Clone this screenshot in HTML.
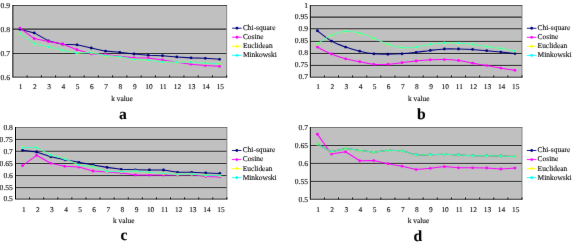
<!DOCTYPE html><html><head><meta charset="utf-8"><style>html,body{margin:0;padding:0;background:#fff}svg{display:block}text{text-rendering:geometricPrecision;font-family:"Liberation Serif",serif;fill:#000;stroke:#000;stroke-width:0.1px}</style></head><body>
<svg width="572" height="244" viewBox="0 0 572 244">
<defs><filter id="bl" x="0" y="0" width="572" height="244" filterUnits="userSpaceOnUse" color-interpolation-filters="sRGB"><feConvolveMatrix order="3" kernelMatrix="0.00348 0.05206 0.00348 0.05206 0.77783 0.05206 0.00348 0.05206 0.00348" edgeMode="duplicate" preserveAlpha="false"/></filter></defs>
<rect width="572" height="244" fill="#fff"/>
<rect x="12.85" y="5.5" width="213.85" height="71.50" fill="#c0c0c0"/>
<line x1="12.85" y1="29.05" x2="226.7" y2="29.05" stroke="#303030" stroke-width="1.3"/>
<line x1="12.85" y1="53.5" x2="226.7" y2="53.5" stroke="#303030" stroke-width="0.95"/>
<line x1="226.7" y1="5.5" x2="226.7" y2="77.0" stroke="#808080" stroke-width="0.9"/>
<line x1="12.85" y1="5.5" x2="227.1" y2="5.5" stroke="#505050" stroke-width="1"/>
<line x1="12.85" y1="5.0" x2="12.85" y2="77.4" stroke="#000" stroke-width="0.95"/>
<line x1="12.85" y1="77.15" x2="227.1" y2="77.15" stroke="#000" stroke-width="0.8"/>
<line x1="27.11" y1="75.3" x2="27.11" y2="77.4" stroke="#000" stroke-width="0.8"/>
<line x1="41.36" y1="75.3" x2="41.36" y2="77.4" stroke="#000" stroke-width="0.8"/>
<line x1="55.62" y1="75.3" x2="55.62" y2="77.4" stroke="#000" stroke-width="0.8"/>
<line x1="69.88" y1="75.3" x2="69.88" y2="77.4" stroke="#000" stroke-width="0.8"/>
<line x1="84.13" y1="75.3" x2="84.13" y2="77.4" stroke="#000" stroke-width="0.8"/>
<line x1="98.39" y1="75.3" x2="98.39" y2="77.4" stroke="#000" stroke-width="0.8"/>
<line x1="112.65" y1="75.3" x2="112.65" y2="77.4" stroke="#000" stroke-width="0.8"/>
<line x1="126.90" y1="75.3" x2="126.90" y2="77.4" stroke="#000" stroke-width="0.8"/>
<line x1="141.16" y1="75.3" x2="141.16" y2="77.4" stroke="#000" stroke-width="0.8"/>
<line x1="155.42" y1="75.3" x2="155.42" y2="77.4" stroke="#000" stroke-width="0.8"/>
<line x1="169.67" y1="75.3" x2="169.67" y2="77.4" stroke="#000" stroke-width="0.8"/>
<line x1="183.93" y1="75.3" x2="183.93" y2="77.4" stroke="#000" stroke-width="0.8"/>
<line x1="198.19" y1="75.3" x2="198.19" y2="77.4" stroke="#000" stroke-width="0.8"/>
<line x1="212.44" y1="75.3" x2="212.44" y2="77.4" stroke="#000" stroke-width="0.8"/>
<line x1="226.70" y1="75.3" x2="226.70" y2="77.4" stroke="#000" stroke-width="0.8"/>
<rect x="310.3" y="5.57" width="211.70" height="71.48" fill="#c0c0c0"/>
<line x1="310.3" y1="17.05" x2="522.0" y2="17.05" stroke="#303030" stroke-width="1.3"/>
<line x1="310.3" y1="28.7" x2="522.0" y2="28.7" stroke="#303030" stroke-width="1.1"/>
<line x1="310.3" y1="41.4" x2="522.0" y2="41.4" stroke="#303030" stroke-width="1.0"/>
<line x1="310.3" y1="53.46" x2="522.0" y2="53.46" stroke="#303030" stroke-width="1.0"/>
<line x1="310.3" y1="65.4" x2="522.0" y2="65.4" stroke="#303030" stroke-width="1.0"/>
<line x1="522.0" y1="5.57" x2="522.0" y2="77.05" stroke="#808080" stroke-width="0.9"/>
<line x1="310.3" y1="5.57" x2="522.4" y2="5.57" stroke="#505050" stroke-width="1"/>
<line x1="310.3" y1="5.07" x2="310.3" y2="77.45" stroke="#000" stroke-width="0.95"/>
<line x1="310.3" y1="77.2" x2="522.4" y2="77.2" stroke="#000" stroke-width="0.8"/>
<line x1="324.41" y1="75.35" x2="324.41" y2="77.45" stroke="#000" stroke-width="0.8"/>
<line x1="338.53" y1="75.35" x2="338.53" y2="77.45" stroke="#000" stroke-width="0.8"/>
<line x1="352.64" y1="75.35" x2="352.64" y2="77.45" stroke="#000" stroke-width="0.8"/>
<line x1="366.75" y1="75.35" x2="366.75" y2="77.45" stroke="#000" stroke-width="0.8"/>
<line x1="380.87" y1="75.35" x2="380.87" y2="77.45" stroke="#000" stroke-width="0.8"/>
<line x1="394.98" y1="75.35" x2="394.98" y2="77.45" stroke="#000" stroke-width="0.8"/>
<line x1="409.09" y1="75.35" x2="409.09" y2="77.45" stroke="#000" stroke-width="0.8"/>
<line x1="423.21" y1="75.35" x2="423.21" y2="77.45" stroke="#000" stroke-width="0.8"/>
<line x1="437.32" y1="75.35" x2="437.32" y2="77.45" stroke="#000" stroke-width="0.8"/>
<line x1="451.43" y1="75.35" x2="451.43" y2="77.45" stroke="#000" stroke-width="0.8"/>
<line x1="465.55" y1="75.35" x2="465.55" y2="77.45" stroke="#000" stroke-width="0.8"/>
<line x1="479.66" y1="75.35" x2="479.66" y2="77.45" stroke="#000" stroke-width="0.8"/>
<line x1="493.77" y1="75.35" x2="493.77" y2="77.45" stroke="#000" stroke-width="0.8"/>
<line x1="507.89" y1="75.35" x2="507.89" y2="77.45" stroke="#000" stroke-width="0.8"/>
<line x1="522.00" y1="75.35" x2="522.00" y2="77.45" stroke="#000" stroke-width="0.8"/>
<rect x="15.5" y="127.5" width="211.40" height="71.45" fill="#c0c0c0"/>
<line x1="15.5" y1="139.45" x2="226.9" y2="139.45" stroke="#303030" stroke-width="0.95"/>
<line x1="15.5" y1="151.25" x2="226.9" y2="151.25" stroke="#303030" stroke-width="0.95"/>
<line x1="15.5" y1="163.5" x2="226.9" y2="163.5" stroke="#303030" stroke-width="0.95"/>
<line x1="15.5" y1="175.57" x2="226.9" y2="175.57" stroke="#303030" stroke-width="0.95"/>
<line x1="15.5" y1="187.6" x2="226.9" y2="187.6" stroke="#303030" stroke-width="0.95"/>
<line x1="226.9" y1="127.5" x2="226.9" y2="198.95" stroke="#808080" stroke-width="0.9"/>
<line x1="15.5" y1="127.5" x2="227.3" y2="127.5" stroke="#6a6a6a" stroke-width="0.85"/>
<line x1="15.5" y1="127.0" x2="15.5" y2="199.35" stroke="#000" stroke-width="0.95"/>
<line x1="15.5" y1="199.1" x2="227.3" y2="199.1" stroke="#000" stroke-width="0.8"/>
<line x1="29.59" y1="197.25" x2="29.59" y2="199.35" stroke="#000" stroke-width="0.8"/>
<line x1="43.69" y1="197.25" x2="43.69" y2="199.35" stroke="#000" stroke-width="0.8"/>
<line x1="57.78" y1="197.25" x2="57.78" y2="199.35" stroke="#000" stroke-width="0.8"/>
<line x1="71.87" y1="197.25" x2="71.87" y2="199.35" stroke="#000" stroke-width="0.8"/>
<line x1="85.97" y1="197.25" x2="85.97" y2="199.35" stroke="#000" stroke-width="0.8"/>
<line x1="100.06" y1="197.25" x2="100.06" y2="199.35" stroke="#000" stroke-width="0.8"/>
<line x1="114.15" y1="197.25" x2="114.15" y2="199.35" stroke="#000" stroke-width="0.8"/>
<line x1="128.25" y1="197.25" x2="128.25" y2="199.35" stroke="#000" stroke-width="0.8"/>
<line x1="142.34" y1="197.25" x2="142.34" y2="199.35" stroke="#000" stroke-width="0.8"/>
<line x1="156.43" y1="197.25" x2="156.43" y2="199.35" stroke="#000" stroke-width="0.8"/>
<line x1="170.53" y1="197.25" x2="170.53" y2="199.35" stroke="#000" stroke-width="0.8"/>
<line x1="184.62" y1="197.25" x2="184.62" y2="199.35" stroke="#000" stroke-width="0.8"/>
<line x1="198.71" y1="197.25" x2="198.71" y2="199.35" stroke="#000" stroke-width="0.8"/>
<line x1="212.81" y1="197.25" x2="212.81" y2="199.35" stroke="#000" stroke-width="0.8"/>
<line x1="226.90" y1="197.25" x2="226.90" y2="199.35" stroke="#000" stroke-width="0.8"/>
<rect x="310.3" y="127.5" width="211.70" height="71.60" fill="#c0c0c0"/>
<line x1="310.3" y1="145.5" x2="522.0" y2="145.5" stroke="#303030" stroke-width="0.95"/>
<line x1="310.3" y1="163.4" x2="522.0" y2="163.4" stroke="#303030" stroke-width="0.95"/>
<line x1="310.3" y1="181.4" x2="522.0" y2="181.4" stroke="#303030" stroke-width="0.95"/>
<line x1="522.0" y1="127.5" x2="522.0" y2="199.1" stroke="#808080" stroke-width="0.9"/>
<line x1="310.3" y1="127.5" x2="522.4" y2="127.5" stroke="#6a6a6a" stroke-width="0.85"/>
<line x1="310.3" y1="127.0" x2="310.3" y2="199.5" stroke="#000" stroke-width="0.95"/>
<line x1="310.3" y1="199.25" x2="522.4" y2="199.25" stroke="#000" stroke-width="0.8"/>
<line x1="324.41" y1="197.4" x2="324.41" y2="199.5" stroke="#000" stroke-width="0.8"/>
<line x1="338.53" y1="197.4" x2="338.53" y2="199.5" stroke="#000" stroke-width="0.8"/>
<line x1="352.64" y1="197.4" x2="352.64" y2="199.5" stroke="#000" stroke-width="0.8"/>
<line x1="366.75" y1="197.4" x2="366.75" y2="199.5" stroke="#000" stroke-width="0.8"/>
<line x1="380.87" y1="197.4" x2="380.87" y2="199.5" stroke="#000" stroke-width="0.8"/>
<line x1="394.98" y1="197.4" x2="394.98" y2="199.5" stroke="#000" stroke-width="0.8"/>
<line x1="409.09" y1="197.4" x2="409.09" y2="199.5" stroke="#000" stroke-width="0.8"/>
<line x1="423.21" y1="197.4" x2="423.21" y2="199.5" stroke="#000" stroke-width="0.8"/>
<line x1="437.32" y1="197.4" x2="437.32" y2="199.5" stroke="#000" stroke-width="0.8"/>
<line x1="451.43" y1="197.4" x2="451.43" y2="199.5" stroke="#000" stroke-width="0.8"/>
<line x1="465.55" y1="197.4" x2="465.55" y2="199.5" stroke="#000" stroke-width="0.8"/>
<line x1="479.66" y1="197.4" x2="479.66" y2="199.5" stroke="#000" stroke-width="0.8"/>
<line x1="493.77" y1="197.4" x2="493.77" y2="199.5" stroke="#000" stroke-width="0.8"/>
<line x1="507.89" y1="197.4" x2="507.89" y2="199.5" stroke="#000" stroke-width="0.8"/>
<line x1="522.00" y1="197.4" x2="522.00" y2="199.5" stroke="#000" stroke-width="0.8"/>
<g filter="url(#bl)">
<text x="9.95" y="8.25" font-size="7.6" text-anchor="end">0.9</text>
<text x="9.95" y="31.80" font-size="7.6" text-anchor="end">0.8</text>
<text x="9.95" y="56.25" font-size="7.6" text-anchor="end">0.7</text>
<text x="9.95" y="79.75" font-size="7.6" text-anchor="end">0.6</text>
<text x="20.68" y="89.30" font-size="7.4" text-anchor="middle">1</text>
<text x="34.94" y="89.30" font-size="7.4" text-anchor="middle">2</text>
<text x="49.19" y="89.30" font-size="7.4" text-anchor="middle">3</text>
<text x="63.45" y="89.30" font-size="7.4" text-anchor="middle">4</text>
<text x="77.70" y="89.30" font-size="7.4" text-anchor="middle">5</text>
<text x="91.96" y="89.30" font-size="7.4" text-anchor="middle">6</text>
<text x="106.22" y="89.30" font-size="7.4" text-anchor="middle">7</text>
<text x="120.47" y="89.30" font-size="7.4" text-anchor="middle">8</text>
<text x="134.73" y="89.30" font-size="7.4" text-anchor="middle">9</text>
<text x="148.99" y="89.30" font-size="7.4" text-anchor="middle">10</text>
<text x="163.24" y="89.30" font-size="7.4" text-anchor="middle">11</text>
<text x="177.50" y="89.30" font-size="7.4" text-anchor="middle">12</text>
<text x="191.76" y="89.30" font-size="7.4" text-anchor="middle">13</text>
<text x="206.01" y="89.30" font-size="7.4" text-anchor="middle">14</text>
<text x="220.27" y="89.30" font-size="7.4" text-anchor="middle">15</text>
<text x="122.00" y="100.60" font-size="7.35" text-anchor="middle">k value</text>
<text x="122.9" y="118.65" font-size="15.6" font-weight="bold" text-anchor="middle">a</text>
<g opacity="1"><path d="M19.98 29.30 L34.23 32.90 L48.49 40.90 L62.75 44.18 L77.00 44.80 L91.26 48.02 L105.52 51.14 L119.77 52.34 L134.03 54.02 L148.29 55.22 L162.54 55.70 L176.80 56.90 L191.06 57.86 L205.31 58.34 L219.57 59.30" fill="none" stroke="#000080" stroke-width="1.05" stroke-linejoin="round"/>
<circle cx="19.98" cy="29.30" r="1.4" fill="#000080"/>
<circle cx="34.23" cy="32.90" r="1.4" fill="#000080"/>
<circle cx="48.49" cy="40.90" r="1.4" fill="#000080"/>
<circle cx="62.75" cy="44.18" r="1.4" fill="#000080"/>
<circle cx="77.00" cy="44.80" r="1.4" fill="#000080"/>
<circle cx="91.26" cy="48.02" r="1.4" fill="#000080"/>
<circle cx="105.52" cy="51.14" r="1.4" fill="#000080"/>
<circle cx="119.77" cy="52.34" r="1.4" fill="#000080"/>
<circle cx="134.03" cy="54.02" r="1.4" fill="#000080"/>
<circle cx="148.29" cy="55.22" r="1.4" fill="#000080"/>
<circle cx="162.54" cy="55.70" r="1.4" fill="#000080"/>
<circle cx="176.80" cy="56.90" r="1.4" fill="#000080"/>
<circle cx="191.06" cy="57.86" r="1.4" fill="#000080"/>
<circle cx="205.31" cy="58.34" r="1.4" fill="#000080"/>
<circle cx="219.57" cy="59.30" r="1.4" fill="#000080"/>
</g>
<g opacity="1"><path d="M19.98 28.10 L34.23 38.60 L48.49 41.54 L62.75 43.94 L77.00 49.76 L91.26 53.78 L105.52 54.50 L119.77 56.18 L134.03 57.80 L148.29 58.00 L162.54 59.90 L176.80 62.30 L191.06 64.20 L205.31 65.50 L219.57 66.26" fill="none" stroke="#ff00ff" stroke-width="1.05" stroke-linejoin="round"/>
<circle cx="19.98" cy="28.10" r="1.4" fill="#ff00ff"/>
<circle cx="34.23" cy="38.60" r="1.4" fill="#ff00ff"/>
<circle cx="48.49" cy="41.54" r="1.4" fill="#ff00ff"/>
<circle cx="62.75" cy="43.94" r="1.4" fill="#ff00ff"/>
<circle cx="77.00" cy="49.76" r="1.4" fill="#ff00ff"/>
<circle cx="91.26" cy="53.78" r="1.4" fill="#ff00ff"/>
<circle cx="105.52" cy="54.50" r="1.4" fill="#ff00ff"/>
<circle cx="119.77" cy="56.18" r="1.4" fill="#ff00ff"/>
<circle cx="134.03" cy="57.80" r="1.4" fill="#ff00ff"/>
<circle cx="148.29" cy="58.00" r="1.4" fill="#ff00ff"/>
<circle cx="162.54" cy="59.90" r="1.4" fill="#ff00ff"/>
<circle cx="176.80" cy="62.30" r="1.4" fill="#ff00ff"/>
<circle cx="191.06" cy="64.20" r="1.4" fill="#ff00ff"/>
<circle cx="205.31" cy="65.50" r="1.4" fill="#ff00ff"/>
<circle cx="219.57" cy="66.26" r="1.4" fill="#ff00ff"/>
</g>
<g opacity="1"><path d="M19.98 33.38 L34.23 43.70 L48.49 46.76 L62.75 50.30 L77.00 53.06 L91.26 52.50 L105.52 55.70 L119.77 56.66 L134.03 59.60 L148.29 60.10 L162.54 62.00 L176.80 62.20 L191.06 62.10 L205.31 63.20 L219.57 63.86" fill="none" stroke="#ffff00" stroke-width="0.9" stroke-linejoin="round"/>
<circle cx="19.98" cy="33.38" r="1.5" fill="#ffff00"/>
<circle cx="34.23" cy="43.70" r="1.5" fill="#ffff00"/>
<circle cx="48.49" cy="46.76" r="1.5" fill="#ffff00"/>
<circle cx="62.75" cy="50.30" r="1.5" fill="#ffff00"/>
<circle cx="77.00" cy="53.06" r="1.5" fill="#ffff00"/>
<circle cx="91.26" cy="52.50" r="1.5" fill="#ffff00"/>
<circle cx="105.52" cy="55.70" r="1.5" fill="#ffff00"/>
<circle cx="119.77" cy="56.66" r="1.5" fill="#ffff00"/>
<circle cx="134.03" cy="59.60" r="1.5" fill="#ffff00"/>
<circle cx="148.29" cy="60.10" r="1.5" fill="#ffff00"/>
<circle cx="162.54" cy="62.00" r="1.5" fill="#ffff00"/>
<circle cx="176.80" cy="62.20" r="1.5" fill="#ffff00"/>
<circle cx="191.06" cy="62.10" r="1.5" fill="#ffff00"/>
<circle cx="205.31" cy="63.20" r="1.5" fill="#ffff00"/>
<circle cx="219.57" cy="63.86" r="1.5" fill="#ffff00"/>
</g>
<g opacity="0.95"><path d="M19.98 33.38 L34.23 43.70 L48.49 46.76 L62.75 50.30 L77.00 53.06 L91.26 52.50 L105.52 55.70 L119.77 56.66 L134.03 59.60 L148.29 60.10 L162.54 62.00 L176.80 62.20 L191.06 62.10 L205.31 63.20 L219.57 63.86" fill="none" stroke="#00ffff" stroke-width="0.8" stroke-linejoin="round"/>
<circle cx="19.98" cy="33.38" r="1.15" fill="#00ffff"/>
<circle cx="34.23" cy="43.70" r="1.15" fill="#00ffff"/>
<circle cx="48.49" cy="46.76" r="1.15" fill="#00ffff"/>
<circle cx="62.75" cy="50.30" r="1.15" fill="#00ffff"/>
<circle cx="77.00" cy="53.06" r="1.15" fill="#00ffff"/>
<circle cx="91.26" cy="52.50" r="1.15" fill="#00ffff"/>
<circle cx="105.52" cy="55.70" r="1.15" fill="#00ffff"/>
<circle cx="119.77" cy="56.66" r="1.15" fill="#00ffff"/>
<circle cx="134.03" cy="59.60" r="1.15" fill="#00ffff"/>
<circle cx="148.29" cy="60.10" r="1.15" fill="#00ffff"/>
<circle cx="162.54" cy="62.00" r="1.15" fill="#00ffff"/>
<circle cx="176.80" cy="62.20" r="1.15" fill="#00ffff"/>
<circle cx="191.06" cy="62.10" r="1.15" fill="#00ffff"/>
<circle cx="205.31" cy="63.20" r="1.15" fill="#00ffff"/>
<circle cx="219.57" cy="63.86" r="1.15" fill="#00ffff"/>
</g>
<line x1="232.1" y1="28.20" x2="241.7" y2="28.20" stroke="#000080" stroke-width="0.9"/>
<circle cx="237.0" cy="28.20" r="1.4" fill="#000080"/>
<text x="242.90" y="30.10" font-size="7.45">Chi-square</text>
<line x1="232.1" y1="37.25" x2="241.7" y2="37.25" stroke="#ff00ff" stroke-width="0.9"/>
<circle cx="237.0" cy="37.25" r="1.4" fill="#ff00ff"/>
<text x="242.90" y="39.15" font-size="7.45">Cosine</text>
<line x1="232.1" y1="46.30" x2="241.7" y2="46.30" stroke="#ffff00" stroke-width="0.9"/>
<circle cx="237.0" cy="46.30" r="1.4" fill="#ffff00"/>
<text x="242.90" y="48.20" font-size="7.45">Euclidean</text>
<line x1="232.1" y1="55.35" x2="241.7" y2="55.35" stroke="#00ffff" stroke-width="0.9"/>
<circle cx="237.0" cy="55.35" r="1.4" fill="#00ffff"/>
<text x="242.90" y="57.25" font-size="7.45">Minkowski</text>
<text x="308.00" y="7.57" font-size="7.6" text-anchor="end">1</text>
<text x="308.00" y="19.05" font-size="7.6" text-anchor="end">0.95</text>
<text x="308.00" y="30.70" font-size="7.6" text-anchor="end">0.9</text>
<text x="308.00" y="43.40" font-size="7.6" text-anchor="end">0.85</text>
<text x="308.00" y="55.46" font-size="7.6" text-anchor="end">0.8</text>
<text x="308.00" y="67.40" font-size="7.6" text-anchor="end">0.75</text>
<text x="308.00" y="79.05" font-size="7.6" text-anchor="end">0.7</text>
<text x="318.16" y="88.95" font-size="7.4" text-anchor="middle">1</text>
<text x="332.27" y="88.95" font-size="7.4" text-anchor="middle">2</text>
<text x="346.38" y="88.95" font-size="7.4" text-anchor="middle">3</text>
<text x="360.50" y="88.95" font-size="7.4" text-anchor="middle">4</text>
<text x="374.61" y="88.95" font-size="7.4" text-anchor="middle">5</text>
<text x="388.72" y="88.95" font-size="7.4" text-anchor="middle">6</text>
<text x="402.84" y="88.95" font-size="7.4" text-anchor="middle">7</text>
<text x="416.95" y="88.95" font-size="7.4" text-anchor="middle">8</text>
<text x="431.06" y="88.95" font-size="7.4" text-anchor="middle">9</text>
<text x="445.18" y="88.95" font-size="7.4" text-anchor="middle">10</text>
<text x="459.29" y="88.95" font-size="7.4" text-anchor="middle">11</text>
<text x="473.40" y="88.95" font-size="7.4" text-anchor="middle">12</text>
<text x="487.52" y="88.95" font-size="7.4" text-anchor="middle">13</text>
<text x="501.63" y="88.95" font-size="7.4" text-anchor="middle">14</text>
<text x="515.74" y="88.95" font-size="7.4" text-anchor="middle">15</text>
<text x="418.70" y="100.85" font-size="7.35" text-anchor="middle">k value</text>
<text x="421.4" y="118.75" font-size="15.6" font-weight="bold" text-anchor="middle">b</text>
<g opacity="1"><path d="M317.36 30.74 C319.71 32.46 326.77 38.34 331.47 41.06 C336.17 43.78 340.88 45.38 345.58 47.06 C350.29 48.74 354.99 50.02 359.70 51.14 C364.40 52.26 369.11 53.26 373.81 53.78 C378.51 54.30 383.22 54.26 387.92 54.26 C392.63 54.26 397.33 54.10 402.04 53.78 C406.74 53.46 411.45 52.90 416.15 52.34 C420.85 51.78 425.56 50.98 430.26 50.42 C434.97 49.86 439.67 49.22 444.38 48.98 C449.08 48.74 453.79 48.90 458.49 48.98 C463.19 49.06 467.90 49.18 472.60 49.46 C477.31 49.74 482.01 50.22 486.72 50.66 C491.42 51.10 496.13 51.62 500.83 52.10 C505.53 52.58 512.59 53.30 514.94 53.54" fill="none" stroke="#000080" stroke-width="1.05" stroke-linejoin="round"/>
<circle cx="317.36" cy="30.74" r="1.4" fill="#000080"/>
<circle cx="331.47" cy="41.06" r="1.4" fill="#000080"/>
<circle cx="345.58" cy="47.06" r="1.4" fill="#000080"/>
<circle cx="359.70" cy="51.14" r="1.4" fill="#000080"/>
<circle cx="373.81" cy="53.78" r="1.4" fill="#000080"/>
<circle cx="387.92" cy="54.26" r="1.4" fill="#000080"/>
<circle cx="402.04" cy="53.78" r="1.4" fill="#000080"/>
<circle cx="416.15" cy="52.34" r="1.4" fill="#000080"/>
<circle cx="430.26" cy="50.42" r="1.4" fill="#000080"/>
<circle cx="444.38" cy="48.98" r="1.4" fill="#000080"/>
<circle cx="458.49" cy="48.98" r="1.4" fill="#000080"/>
<circle cx="472.60" cy="49.46" r="1.4" fill="#000080"/>
<circle cx="486.72" cy="50.66" r="1.4" fill="#000080"/>
<circle cx="500.83" cy="52.10" r="1.4" fill="#000080"/>
<circle cx="514.94" cy="53.54" r="1.4" fill="#000080"/>
</g>
<g opacity="1"><path d="M317.36 47.06 C319.71 48.22 326.77 52.06 331.47 54.02 C336.17 55.98 340.88 57.54 345.58 58.82 C350.29 60.10 354.99 60.78 359.70 61.70 C364.40 62.62 369.11 63.90 373.81 64.34 C378.51 64.78 383.22 64.62 387.92 64.34 C392.63 64.06 397.33 63.22 402.04 62.66 C406.74 62.10 411.45 61.46 416.15 60.98 C420.85 60.50 425.56 60.02 430.26 59.78 C434.97 59.54 439.67 59.42 444.38 59.54 C449.08 59.66 453.79 59.90 458.49 60.50 C463.19 61.10 467.90 62.30 472.60 63.14 C477.31 63.98 482.01 64.72 486.72 65.54 C491.42 66.36 496.13 67.26 500.83 68.06 C505.53 68.86 512.59 69.96 514.94 70.34" fill="none" stroke="#ff00ff" stroke-width="1.05" stroke-linejoin="round"/>
<circle cx="317.36" cy="47.06" r="1.4" fill="#ff00ff"/>
<circle cx="331.47" cy="54.02" r="1.4" fill="#ff00ff"/>
<circle cx="345.58" cy="58.82" r="1.4" fill="#ff00ff"/>
<circle cx="359.70" cy="61.70" r="1.4" fill="#ff00ff"/>
<circle cx="373.81" cy="64.34" r="1.4" fill="#ff00ff"/>
<circle cx="387.92" cy="64.34" r="1.4" fill="#ff00ff"/>
<circle cx="402.04" cy="62.66" r="1.4" fill="#ff00ff"/>
<circle cx="416.15" cy="60.98" r="1.4" fill="#ff00ff"/>
<circle cx="430.26" cy="59.78" r="1.4" fill="#ff00ff"/>
<circle cx="444.38" cy="59.54" r="1.4" fill="#ff00ff"/>
<circle cx="458.49" cy="60.50" r="1.4" fill="#ff00ff"/>
<circle cx="472.60" cy="63.14" r="1.4" fill="#ff00ff"/>
<circle cx="486.72" cy="65.54" r="1.4" fill="#ff00ff"/>
<circle cx="500.83" cy="68.06" r="1.4" fill="#ff00ff"/>
<circle cx="514.94" cy="70.34" r="1.4" fill="#ff00ff"/>
</g>
<g opacity="1"><path d="M317.36 43.80 C319.71 42.38 326.77 37.38 331.47 35.30 C336.17 33.21 340.88 31.65 345.58 31.29 C350.29 30.93 354.99 31.97 359.70 33.14 C364.40 34.31 369.11 36.44 373.81 38.30 C378.51 40.16 383.22 42.75 387.92 44.30 C392.63 45.85 397.33 47.13 402.04 47.60 C406.74 48.07 411.45 47.65 416.15 47.10 C420.85 46.55 425.56 44.98 430.26 44.30 C434.97 43.62 439.67 43.18 444.38 43.00 C449.08 42.82 453.79 42.98 458.49 43.20 C463.19 43.42 467.90 43.74 472.60 44.30 C477.31 44.86 482.01 45.88 486.72 46.58 C491.42 47.28 496.13 47.78 500.83 48.50 C505.53 49.22 512.59 50.50 514.94 50.90" fill="none" stroke="#ffff00" stroke-width="0.9" stroke-linejoin="round"/>
<circle cx="317.36" cy="43.80" r="1.5" fill="#ffff00"/>
<circle cx="331.47" cy="35.30" r="1.5" fill="#ffff00"/>
<circle cx="345.58" cy="31.29" r="1.5" fill="#ffff00"/>
<circle cx="359.70" cy="33.14" r="1.5" fill="#ffff00"/>
<circle cx="373.81" cy="38.30" r="1.5" fill="#ffff00"/>
<circle cx="387.92" cy="44.30" r="1.5" fill="#ffff00"/>
<circle cx="402.04" cy="47.60" r="1.5" fill="#ffff00"/>
<circle cx="416.15" cy="47.10" r="1.5" fill="#ffff00"/>
<circle cx="430.26" cy="44.30" r="1.5" fill="#ffff00"/>
<circle cx="444.38" cy="43.00" r="1.5" fill="#ffff00"/>
<circle cx="458.49" cy="43.20" r="1.5" fill="#ffff00"/>
<circle cx="472.60" cy="44.30" r="1.5" fill="#ffff00"/>
<circle cx="486.72" cy="46.58" r="1.5" fill="#ffff00"/>
<circle cx="500.83" cy="48.50" r="1.5" fill="#ffff00"/>
<circle cx="514.94" cy="50.90" r="1.5" fill="#ffff00"/>
</g>
<g opacity="0.95"><path d="M317.36 43.80 C319.71 42.38 326.77 37.38 331.47 35.30 C336.17 33.21 340.88 31.65 345.58 31.29 C350.29 30.93 354.99 31.97 359.70 33.14 C364.40 34.31 369.11 36.44 373.81 38.30 C378.51 40.16 383.22 42.75 387.92 44.30 C392.63 45.85 397.33 47.13 402.04 47.60 C406.74 48.07 411.45 47.65 416.15 47.10 C420.85 46.55 425.56 44.98 430.26 44.30 C434.97 43.62 439.67 43.18 444.38 43.00 C449.08 42.82 453.79 42.98 458.49 43.20 C463.19 43.42 467.90 43.74 472.60 44.30 C477.31 44.86 482.01 45.88 486.72 46.58 C491.42 47.28 496.13 47.78 500.83 48.50 C505.53 49.22 512.59 50.50 514.94 50.90" fill="none" stroke="#00ffff" stroke-width="0.8" stroke-linejoin="round"/>
<circle cx="317.36" cy="43.80" r="1.15" fill="#00ffff"/>
<circle cx="331.47" cy="35.30" r="1.15" fill="#00ffff"/>
<circle cx="345.58" cy="31.29" r="1.15" fill="#00ffff"/>
<circle cx="359.70" cy="33.14" r="1.15" fill="#00ffff"/>
<circle cx="373.81" cy="38.30" r="1.15" fill="#00ffff"/>
<circle cx="387.92" cy="44.30" r="1.15" fill="#00ffff"/>
<circle cx="402.04" cy="47.60" r="1.15" fill="#00ffff"/>
<circle cx="416.15" cy="47.10" r="1.15" fill="#00ffff"/>
<circle cx="430.26" cy="44.30" r="1.15" fill="#00ffff"/>
<circle cx="444.38" cy="43.00" r="1.15" fill="#00ffff"/>
<circle cx="458.49" cy="43.20" r="1.15" fill="#00ffff"/>
<circle cx="472.60" cy="44.30" r="1.15" fill="#00ffff"/>
<circle cx="486.72" cy="46.58" r="1.15" fill="#00ffff"/>
<circle cx="500.83" cy="48.50" r="1.15" fill="#00ffff"/>
<circle cx="514.94" cy="50.90" r="1.15" fill="#00ffff"/>
</g>
<line x1="526.8" y1="28.27" x2="536.4" y2="28.27" stroke="#000080" stroke-width="0.9"/>
<circle cx="531.6999999999999" cy="28.27" r="1.4" fill="#000080"/>
<text x="537.60" y="30.17" font-size="7.45">Chi-square</text>
<line x1="526.8" y1="37.32" x2="536.4" y2="37.32" stroke="#ff00ff" stroke-width="0.9"/>
<circle cx="531.6999999999999" cy="37.32" r="1.4" fill="#ff00ff"/>
<text x="537.60" y="39.22" font-size="7.45">Cosine</text>
<line x1="526.8" y1="46.37" x2="536.4" y2="46.37" stroke="#ffff00" stroke-width="0.9"/>
<circle cx="531.6999999999999" cy="46.37" r="1.4" fill="#ffff00"/>
<text x="537.60" y="48.27" font-size="7.45">Euclidean</text>
<line x1="526.8" y1="55.42" x2="536.4" y2="55.42" stroke="#00ffff" stroke-width="0.9"/>
<circle cx="531.6999999999999" cy="55.42" r="1.4" fill="#00ffff"/>
<text x="537.60" y="57.32" font-size="7.45">Minkowski</text>
<text x="12.90" y="129.95" font-size="7.6" text-anchor="end">0.8</text>
<text x="12.90" y="141.90" font-size="7.6" text-anchor="end">0.75</text>
<text x="12.90" y="153.70" font-size="7.6" text-anchor="end">0.7</text>
<text x="12.90" y="165.95" font-size="7.6" text-anchor="end">0.65</text>
<text x="12.90" y="178.02" font-size="7.6" text-anchor="end">0.6</text>
<text x="12.90" y="190.05" font-size="7.6" text-anchor="end">0.55</text>
<text x="12.90" y="201.40" font-size="7.6" text-anchor="end">0.5</text>
<text x="23.75" y="211.65" font-size="7.4" text-anchor="middle">1</text>
<text x="37.84" y="211.65" font-size="7.4" text-anchor="middle">2</text>
<text x="51.93" y="211.65" font-size="7.4" text-anchor="middle">3</text>
<text x="66.03" y="211.65" font-size="7.4" text-anchor="middle">4</text>
<text x="80.12" y="211.65" font-size="7.4" text-anchor="middle">5</text>
<text x="94.21" y="211.65" font-size="7.4" text-anchor="middle">6</text>
<text x="108.31" y="211.65" font-size="7.4" text-anchor="middle">7</text>
<text x="122.40" y="211.65" font-size="7.4" text-anchor="middle">8</text>
<text x="136.49" y="211.65" font-size="7.4" text-anchor="middle">9</text>
<text x="150.59" y="211.65" font-size="7.4" text-anchor="middle">10</text>
<text x="164.68" y="211.65" font-size="7.4" text-anchor="middle">11</text>
<text x="178.77" y="211.65" font-size="7.4" text-anchor="middle">12</text>
<text x="192.87" y="211.65" font-size="7.4" text-anchor="middle">13</text>
<text x="206.96" y="211.65" font-size="7.4" text-anchor="middle">14</text>
<text x="221.05" y="211.65" font-size="7.4" text-anchor="middle">15</text>
<text x="123.70" y="223.35" font-size="7.35" text-anchor="middle">k value</text>
<text x="124.0" y="240.4" font-size="15.6" font-weight="bold" text-anchor="middle">c</text>
<g opacity="1"><path d="M22.55 150.34 L36.64 152.02 L50.73 156.82 L64.83 159.80 L78.92 162.34 L93.01 164.98 L107.11 167.38 L121.20 169.30 L135.29 169.78 L149.39 170.02 L163.48 170.02 L177.57 172.30 L191.67 172.30 L205.76 172.90 L219.85 173.50" fill="none" stroke="#000080" stroke-width="1.05" stroke-linejoin="round"/>
<circle cx="22.55" cy="150.34" r="1.4" fill="#000080"/>
<circle cx="36.64" cy="152.02" r="1.4" fill="#000080"/>
<circle cx="50.73" cy="156.82" r="1.4" fill="#000080"/>
<circle cx="64.83" cy="159.80" r="1.4" fill="#000080"/>
<circle cx="78.92" cy="162.34" r="1.4" fill="#000080"/>
<circle cx="93.01" cy="164.98" r="1.4" fill="#000080"/>
<circle cx="107.11" cy="167.38" r="1.4" fill="#000080"/>
<circle cx="121.20" cy="169.30" r="1.4" fill="#000080"/>
<circle cx="135.29" cy="169.78" r="1.4" fill="#000080"/>
<circle cx="149.39" cy="170.02" r="1.4" fill="#000080"/>
<circle cx="163.48" cy="170.02" r="1.4" fill="#000080"/>
<circle cx="177.57" cy="172.30" r="1.4" fill="#000080"/>
<circle cx="191.67" cy="172.30" r="1.4" fill="#000080"/>
<circle cx="205.76" cy="172.90" r="1.4" fill="#000080"/>
<circle cx="219.85" cy="173.50" r="1.4" fill="#000080"/>
</g>
<g opacity="1"><path d="M22.55 165.70 L36.64 155.30 L50.73 163.30 L64.83 166.30 L78.92 167.10 L93.01 171.00 L107.11 172.10 L121.20 172.90 L135.29 174.90 L149.39 175.10 L163.48 175.00 L177.57 175.00 L191.67 174.60 L205.76 176.60 L219.85 176.90" fill="none" stroke="#ff00ff" stroke-width="1.05" stroke-linejoin="round"/>
<circle cx="22.55" cy="165.70" r="1.4" fill="#ff00ff"/>
<circle cx="36.64" cy="155.30" r="1.4" fill="#ff00ff"/>
<circle cx="50.73" cy="163.30" r="1.4" fill="#ff00ff"/>
<circle cx="64.83" cy="166.30" r="1.4" fill="#ff00ff"/>
<circle cx="78.92" cy="167.10" r="1.4" fill="#ff00ff"/>
<circle cx="93.01" cy="171.00" r="1.4" fill="#ff00ff"/>
<circle cx="107.11" cy="172.10" r="1.4" fill="#ff00ff"/>
<circle cx="121.20" cy="172.90" r="1.4" fill="#ff00ff"/>
<circle cx="135.29" cy="174.90" r="1.4" fill="#ff00ff"/>
<circle cx="149.39" cy="175.10" r="1.4" fill="#ff00ff"/>
<circle cx="163.48" cy="175.00" r="1.4" fill="#ff00ff"/>
<circle cx="177.57" cy="175.00" r="1.4" fill="#ff00ff"/>
<circle cx="191.67" cy="174.60" r="1.4" fill="#ff00ff"/>
<circle cx="205.76" cy="176.60" r="1.4" fill="#ff00ff"/>
<circle cx="219.85" cy="176.90" r="1.4" fill="#ff00ff"/>
</g>
<g opacity="1"><path d="M22.55 147.56 L36.64 147.56 L50.73 154.90 L64.83 158.80 L78.92 164.98 L93.01 166.60 L107.11 171.50 L121.20 171.70 L135.29 171.00 L149.39 172.42 L163.48 173.38 L177.57 174.34 L191.67 174.10 L205.76 175.30 L219.85 175.70" fill="none" stroke="#ffff00" stroke-width="0.9" stroke-linejoin="round"/>
<circle cx="22.55" cy="147.56" r="1.5" fill="#ffff00"/>
<circle cx="36.64" cy="147.56" r="1.5" fill="#ffff00"/>
<circle cx="50.73" cy="154.90" r="1.5" fill="#ffff00"/>
<circle cx="64.83" cy="158.80" r="1.5" fill="#ffff00"/>
<circle cx="78.92" cy="164.98" r="1.5" fill="#ffff00"/>
<circle cx="93.01" cy="166.60" r="1.5" fill="#ffff00"/>
<circle cx="107.11" cy="171.50" r="1.5" fill="#ffff00"/>
<circle cx="121.20" cy="171.70" r="1.5" fill="#ffff00"/>
<circle cx="135.29" cy="171.00" r="1.5" fill="#ffff00"/>
<circle cx="149.39" cy="172.42" r="1.5" fill="#ffff00"/>
<circle cx="163.48" cy="173.38" r="1.5" fill="#ffff00"/>
<circle cx="177.57" cy="174.34" r="1.5" fill="#ffff00"/>
<circle cx="191.67" cy="174.10" r="1.5" fill="#ffff00"/>
<circle cx="205.76" cy="175.30" r="1.5" fill="#ffff00"/>
<circle cx="219.85" cy="175.70" r="1.5" fill="#ffff00"/>
</g>
<g opacity="0.95"><path d="M22.55 147.56 L36.64 147.56 L50.73 154.90 L64.83 158.80 L78.92 164.98 L93.01 166.60 L107.11 171.50 L121.20 171.70 L135.29 171.00 L149.39 172.42 L163.48 173.38 L177.57 174.34 L191.67 174.10 L205.76 175.30 L219.85 175.70" fill="none" stroke="#00ffff" stroke-width="0.8" stroke-linejoin="round"/>
<circle cx="22.55" cy="147.56" r="1.15" fill="#00ffff"/>
<circle cx="36.64" cy="147.56" r="1.15" fill="#00ffff"/>
<circle cx="50.73" cy="154.90" r="1.15" fill="#00ffff"/>
<circle cx="64.83" cy="158.80" r="1.15" fill="#00ffff"/>
<circle cx="78.92" cy="164.98" r="1.15" fill="#00ffff"/>
<circle cx="93.01" cy="166.60" r="1.15" fill="#00ffff"/>
<circle cx="107.11" cy="171.50" r="1.15" fill="#00ffff"/>
<circle cx="121.20" cy="171.70" r="1.15" fill="#00ffff"/>
<circle cx="135.29" cy="171.00" r="1.15" fill="#00ffff"/>
<circle cx="149.39" cy="172.42" r="1.15" fill="#00ffff"/>
<circle cx="163.48" cy="173.38" r="1.15" fill="#00ffff"/>
<circle cx="177.57" cy="174.34" r="1.15" fill="#00ffff"/>
<circle cx="191.67" cy="174.10" r="1.15" fill="#00ffff"/>
<circle cx="205.76" cy="175.30" r="1.15" fill="#00ffff"/>
<circle cx="219.85" cy="175.70" r="1.15" fill="#00ffff"/>
</g>
<line x1="231.9" y1="150.50" x2="241.5" y2="150.50" stroke="#000080" stroke-width="0.9"/>
<circle cx="236.8" cy="150.50" r="1.4" fill="#000080"/>
<text x="242.70" y="152.40" font-size="7.45">Chi-square</text>
<line x1="231.9" y1="159.55" x2="241.5" y2="159.55" stroke="#ff00ff" stroke-width="0.9"/>
<circle cx="236.8" cy="159.55" r="1.4" fill="#ff00ff"/>
<text x="242.70" y="161.45" font-size="7.45">Cosine</text>
<line x1="231.9" y1="168.60" x2="241.5" y2="168.60" stroke="#ffff00" stroke-width="0.9"/>
<circle cx="236.8" cy="168.60" r="1.4" fill="#ffff00"/>
<text x="242.70" y="170.50" font-size="7.45">Euclidean</text>
<line x1="231.9" y1="177.65" x2="241.5" y2="177.65" stroke="#00ffff" stroke-width="0.9"/>
<circle cx="236.8" cy="177.65" r="1.4" fill="#00ffff"/>
<text x="242.70" y="179.55" font-size="7.45">Minkowski</text>
<text x="308.00" y="129.95" font-size="7.6" text-anchor="end">0.7</text>
<text x="308.00" y="147.95" font-size="7.6" text-anchor="end">0.65</text>
<text x="308.00" y="165.85" font-size="7.6" text-anchor="end">0.6</text>
<text x="308.00" y="183.85" font-size="7.6" text-anchor="end">0.55</text>
<text x="308.00" y="201.55" font-size="7.6" text-anchor="end">0.5</text>
<text x="318.06" y="211.80" font-size="7.4" text-anchor="middle">1</text>
<text x="332.17" y="211.80" font-size="7.4" text-anchor="middle">2</text>
<text x="346.28" y="211.80" font-size="7.4" text-anchor="middle">3</text>
<text x="360.40" y="211.80" font-size="7.4" text-anchor="middle">4</text>
<text x="374.51" y="211.80" font-size="7.4" text-anchor="middle">5</text>
<text x="388.62" y="211.80" font-size="7.4" text-anchor="middle">6</text>
<text x="402.74" y="211.80" font-size="7.4" text-anchor="middle">7</text>
<text x="416.85" y="211.80" font-size="7.4" text-anchor="middle">8</text>
<text x="430.96" y="211.80" font-size="7.4" text-anchor="middle">9</text>
<text x="445.08" y="211.80" font-size="7.4" text-anchor="middle">10</text>
<text x="459.19" y="211.80" font-size="7.4" text-anchor="middle">11</text>
<text x="473.30" y="211.80" font-size="7.4" text-anchor="middle">12</text>
<text x="487.42" y="211.80" font-size="7.4" text-anchor="middle">13</text>
<text x="501.53" y="211.80" font-size="7.4" text-anchor="middle">14</text>
<text x="515.64" y="211.80" font-size="7.4" text-anchor="middle">15</text>
<text x="418.50" y="222.80" font-size="7.35" text-anchor="middle">k value</text>
<text x="417.8" y="240.6" font-size="15.6" font-weight="bold" text-anchor="middle">d</text>
<g opacity="1"><path d="M317.36 144.04 L331.47 151.78 L345.58 148.54 L359.70 150.34 L373.81 152.28 L387.92 150.34 L402.04 150.81 L416.15 155.02 L430.26 154.66 L444.38 154.30 L458.49 155.02 L472.60 155.74 L486.72 155.74 L500.83 156.00 L514.94 156.60" fill="none" stroke="#000080" stroke-width="1.05" stroke-linejoin="round"/>
<circle cx="317.36" cy="144.04" r="1.4" fill="#000080"/>
<circle cx="331.47" cy="151.78" r="1.4" fill="#000080"/>
<circle cx="345.58" cy="148.54" r="1.4" fill="#000080"/>
<circle cx="359.70" cy="150.34" r="1.4" fill="#000080"/>
<circle cx="373.81" cy="152.28" r="1.4" fill="#000080"/>
<circle cx="387.92" cy="150.34" r="1.4" fill="#000080"/>
<circle cx="402.04" cy="150.81" r="1.4" fill="#000080"/>
<circle cx="416.15" cy="155.02" r="1.4" fill="#000080"/>
<circle cx="430.26" cy="154.66" r="1.4" fill="#000080"/>
<circle cx="444.38" cy="154.30" r="1.4" fill="#000080"/>
<circle cx="458.49" cy="155.02" r="1.4" fill="#000080"/>
<circle cx="472.60" cy="155.74" r="1.4" fill="#000080"/>
<circle cx="486.72" cy="155.74" r="1.4" fill="#000080"/>
<circle cx="500.83" cy="156.00" r="1.4" fill="#000080"/>
<circle cx="514.94" cy="156.60" r="1.4" fill="#000080"/>
</g>
<g opacity="1"><path d="M317.36 134.14 L331.47 154.05 L345.58 151.78 L359.70 160.78 L373.81 160.56 L387.92 163.66 L402.04 166.18 L416.15 169.56 L430.26 168.34 L444.38 166.54 L458.49 167.80 L472.60 167.80 L486.72 167.98 L500.83 169.00 L514.94 168.10" fill="none" stroke="#ff00ff" stroke-width="1.05" stroke-linejoin="round"/>
<circle cx="317.36" cy="134.14" r="1.4" fill="#ff00ff"/>
<circle cx="331.47" cy="154.05" r="1.4" fill="#ff00ff"/>
<circle cx="345.58" cy="151.78" r="1.4" fill="#ff00ff"/>
<circle cx="359.70" cy="160.78" r="1.4" fill="#ff00ff"/>
<circle cx="373.81" cy="160.56" r="1.4" fill="#ff00ff"/>
<circle cx="387.92" cy="163.66" r="1.4" fill="#ff00ff"/>
<circle cx="402.04" cy="166.18" r="1.4" fill="#ff00ff"/>
<circle cx="416.15" cy="169.56" r="1.4" fill="#ff00ff"/>
<circle cx="430.26" cy="168.34" r="1.4" fill="#ff00ff"/>
<circle cx="444.38" cy="166.54" r="1.4" fill="#ff00ff"/>
<circle cx="458.49" cy="167.80" r="1.4" fill="#ff00ff"/>
<circle cx="472.60" cy="167.80" r="1.4" fill="#ff00ff"/>
<circle cx="486.72" cy="167.98" r="1.4" fill="#ff00ff"/>
<circle cx="500.83" cy="169.00" r="1.4" fill="#ff00ff"/>
<circle cx="514.94" cy="168.10" r="1.4" fill="#ff00ff"/>
</g>
<g opacity="1"><path d="M317.36 144.04 L331.47 151.78 L345.58 148.54 L359.70 150.34 L373.81 152.28 L387.92 150.34 L402.04 150.81 L416.15 155.02 L430.26 154.66 L444.38 154.30 L458.49 155.02 L472.60 155.74 L486.72 155.74 L500.83 156.00 L514.94 156.60" fill="none" stroke="#ffff00" stroke-width="0.9" stroke-linejoin="round"/>
<circle cx="317.36" cy="144.04" r="1.5" fill="#ffff00"/>
<circle cx="331.47" cy="151.78" r="1.5" fill="#ffff00"/>
<circle cx="345.58" cy="148.54" r="1.5" fill="#ffff00"/>
<circle cx="359.70" cy="150.34" r="1.5" fill="#ffff00"/>
<circle cx="373.81" cy="152.28" r="1.5" fill="#ffff00"/>
<circle cx="387.92" cy="150.34" r="1.5" fill="#ffff00"/>
<circle cx="402.04" cy="150.81" r="1.5" fill="#ffff00"/>
<circle cx="416.15" cy="155.02" r="1.5" fill="#ffff00"/>
<circle cx="430.26" cy="154.66" r="1.5" fill="#ffff00"/>
<circle cx="444.38" cy="154.30" r="1.5" fill="#ffff00"/>
<circle cx="458.49" cy="155.02" r="1.5" fill="#ffff00"/>
<circle cx="472.60" cy="155.74" r="1.5" fill="#ffff00"/>
<circle cx="486.72" cy="155.74" r="1.5" fill="#ffff00"/>
<circle cx="500.83" cy="156.00" r="1.5" fill="#ffff00"/>
<circle cx="514.94" cy="156.60" r="1.5" fill="#ffff00"/>
</g>
<g opacity="0.95"><path d="M317.36 144.04 L331.47 151.78 L345.58 148.54 L359.70 150.34 L373.81 152.28 L387.92 150.34 L402.04 150.81 L416.15 155.02 L430.26 154.66 L444.38 154.30 L458.49 155.02 L472.60 155.74 L486.72 155.74 L500.83 156.00 L514.94 156.60" fill="none" stroke="#00ffff" stroke-width="0.8" stroke-linejoin="round"/>
<circle cx="317.36" cy="144.04" r="1.15" fill="#00ffff"/>
<circle cx="331.47" cy="151.78" r="1.15" fill="#00ffff"/>
<circle cx="345.58" cy="148.54" r="1.15" fill="#00ffff"/>
<circle cx="359.70" cy="150.34" r="1.15" fill="#00ffff"/>
<circle cx="373.81" cy="152.28" r="1.15" fill="#00ffff"/>
<circle cx="387.92" cy="150.34" r="1.15" fill="#00ffff"/>
<circle cx="402.04" cy="150.81" r="1.15" fill="#00ffff"/>
<circle cx="416.15" cy="155.02" r="1.15" fill="#00ffff"/>
<circle cx="430.26" cy="154.66" r="1.15" fill="#00ffff"/>
<circle cx="444.38" cy="154.30" r="1.15" fill="#00ffff"/>
<circle cx="458.49" cy="155.02" r="1.15" fill="#00ffff"/>
<circle cx="472.60" cy="155.74" r="1.15" fill="#00ffff"/>
<circle cx="486.72" cy="155.74" r="1.15" fill="#00ffff"/>
<circle cx="500.83" cy="156.00" r="1.15" fill="#00ffff"/>
<circle cx="514.94" cy="156.60" r="1.15" fill="#00ffff"/>
</g>
<line x1="526.8" y1="150.50" x2="536.4" y2="150.50" stroke="#000080" stroke-width="0.9"/>
<circle cx="531.6999999999999" cy="150.50" r="1.4" fill="#000080"/>
<text x="537.60" y="152.40" font-size="7.45">Chi-square</text>
<line x1="526.8" y1="159.55" x2="536.4" y2="159.55" stroke="#ff00ff" stroke-width="0.9"/>
<circle cx="531.6999999999999" cy="159.55" r="1.4" fill="#ff00ff"/>
<text x="537.60" y="161.45" font-size="7.45">Cosine</text>
<line x1="526.8" y1="168.60" x2="536.4" y2="168.60" stroke="#ffff00" stroke-width="0.9"/>
<circle cx="531.6999999999999" cy="168.60" r="1.4" fill="#ffff00"/>
<text x="537.60" y="170.50" font-size="7.45">Euclidean</text>
<line x1="526.8" y1="177.65" x2="536.4" y2="177.65" stroke="#00ffff" stroke-width="0.9"/>
<circle cx="531.6999999999999" cy="177.65" r="1.4" fill="#00ffff"/>
<text x="537.60" y="179.55" font-size="7.45">Minkowski</text>
</g></svg></body></html>
